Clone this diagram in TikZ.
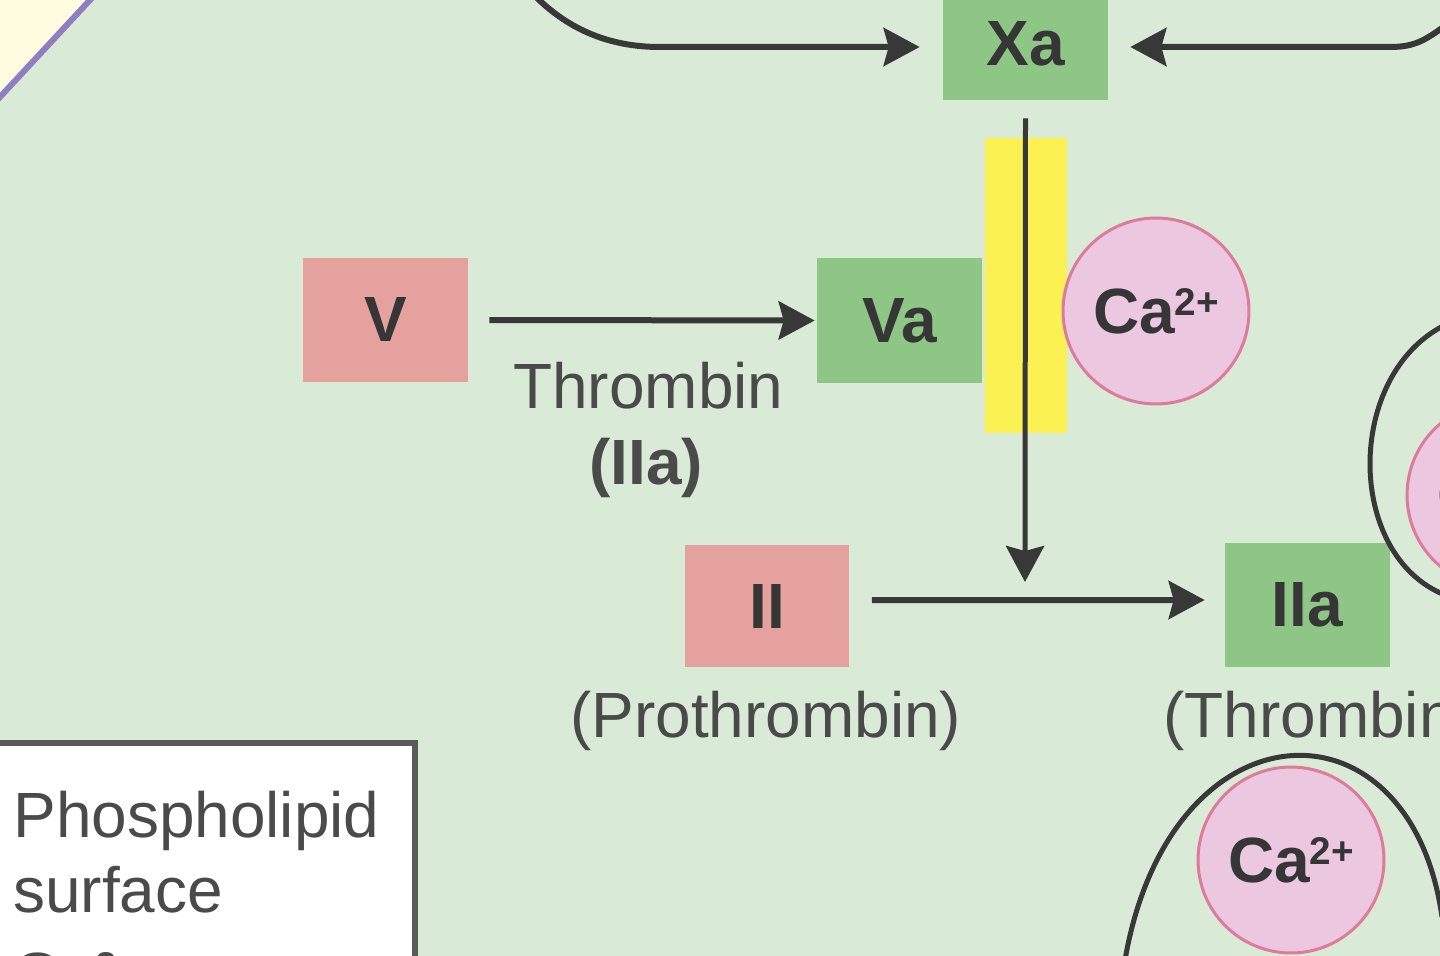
\documentclass[tikz,border=0pt]{standalone}
\usepackage{fontspec}
\setmainfont{Liberation Sans}
\usetikzlibrary{arrows.meta}
\definecolor{bgc}{HTML}{D9EAD7}
\definecolor{gboxc}{HTML}{8EC785}
\definecolor{pboxc}{HTML}{E5A19E}
\definecolor{ybarc}{HTML}{FCF152}
\definecolor{cafill}{HTML}{EBC8E0}
\definecolor{caline}{HTML}{DE7A9A}
\definecolor{linec}{HTML}{383838}
\definecolor{txtc}{HTML}{4A4A4A}
\definecolor{boxtxt}{HTML}{363636}
\definecolor{plline}{HTML}{5A5A5A}
\definecolor{purpc}{HTML}{8F7FC2}
\definecolor{paley}{HTML}{FFFCE0}
\newcommand\lblfont{\fontsize{36.4pt}{44pt}\selectfont}
\newcommand\supfont{\fontsize{22pt}{24pt}\selectfont}
\newcommand\caion{Ca\raisebox{0.27em}{\supfont 2+}}
\begin{document}
\begin{tikzpicture}[x=0.02cm,y=-0.02cm,
  factorbox/.style={minimum width=3.3cm, minimum height=2.5cm, inner sep=0pt,
     font=\lblfont\bfseries, text=boxtxt},
  activebox/.style={factorbox, fill=gboxc},
  zymogen/.style={factorbox, fill=pboxc},
  caball/.style={circle, fill=cafill, draw=caline, line width=0.06cm,
     minimum size=3.72cm, inner sep=0pt, font=\lblfont\bfseries, text=boxtxt},
  lbl/.style={inner sep=0pt, font=\lblfont, text=txtc},
  arr/.style={draw=linec, line width=0.12cm,
     -{Stealth[length=0.72cm,width=0.76cm,inset=0.1cm]}},
  varr/.style={arr, line width=0.1cm},
  loop/.style={draw=linec, line width=0.1cm}]
\useasboundingbox (0,0) rectangle (1440,956);
\clip (0,0) rectangle (1440,956);
\fill[bgc] (0,0) rectangle (1440,956);
% top-left corner shape
\fill[paley] (-10,-10) -- (99.3,-10) -- (-10,107.8) -- cycle;
\draw[purpc, line width=0.12cm] (99.3,-10) -- (-10,107.8);
% yellow bar
\node[fill=ybarc, minimum width=1.64cm, minimum height=5.9cm, inner sep=0pt] (bar) at (1026,285.5) {};
% boxes
\node[activebox, minimum height=2.24cm] (Xa) at (1025.5,44) {Xa};
\node[zymogen] (V) at (385.5,320) {V};
\node[activebox] (Va) at (899.5,320.5) {Va};
\node[zymogen, minimum height=2.44cm] (II) at (767,606) {II};
\node[activebox, minimum height=2.48cm] (IIa) at (1307.5,605) {IIa};
% coordinates
\coordinate (lin) at (537,-2);
\coordinate (rin) at (1445,26);
\coordinate (j) at (1025,600);
\coordinate (b1) at (1125,960);
\coordinate (b2) at (1442,917);
\coordinate (r1) at (1445,325);
\coordinate (r2) at (1445,595);
% curves
\draw[loop] (b1) .. controls (1170,700) and (1410,690) .. (b2);
\draw[loop] (r1) .. controls (1345,375) and (1345,555) .. (r2);
% arrows
\draw[arr] (lin) .. controls (570,30) and (610,47) .. (660,47) -- ([xshift=-0.46cm,yshift=-0.06cm]Xa.west);
\draw[arr] (rin) .. controls (1425,40) and (1415,47) .. (1390,47) -- ([xshift=0.44cm,yshift=-0.06cm]Xa.east);
\draw[arr] ([xshift=0.42cm]V.east) -- ([xshift=-0.04cm]Va.west);
\draw[arr] ([xshift=0.44cm,yshift=0.12cm]II.east) -- ([xshift=-0.4cm,yshift=0.1cm]IIa.west);
\draw[varr] ([yshift=-0.36cm]Xa.south) -- ([yshift=0.36cm]j);
% calcium ions
\node[caball] (ca1) at (1156,311) {\caion};
\node[caball] (ca2) at (1291,860) {\caion};
\node[caball] (ca3) at (1500,495) {\caion};
% labels
\node[lbl, anchor=base west] (thr) at (513,408) {Thrombin};
\node[lbl, anchor=base, font=\lblfont\bfseries] (iia) at (646,484) {(IIa)};
\node[lbl, anchor=base west] (pro) at (570,737) {(Prothrombin)};
\node[lbl, anchor=base west] (thr2) at (1163,737) {(Thrombin)};
% phospholipid legend box
\node[draw=plline, line width=0.12cm, fill=white, minimum width=8.8cm, minimum height=6cm,
  inner sep=0pt, anchor=north east] (pl) at (418,740) {};
\node[lbl, anchor=base west] (pl1) at (13,837) {Phospholipid};
\node[lbl, anchor=base west] (pl2) at (13,912) {surface};
\node[lbl, anchor=base west, font=\lblfont\bfseries] (pl3) at (13,997) {\caion};
\end{tikzpicture}
\end{document}
